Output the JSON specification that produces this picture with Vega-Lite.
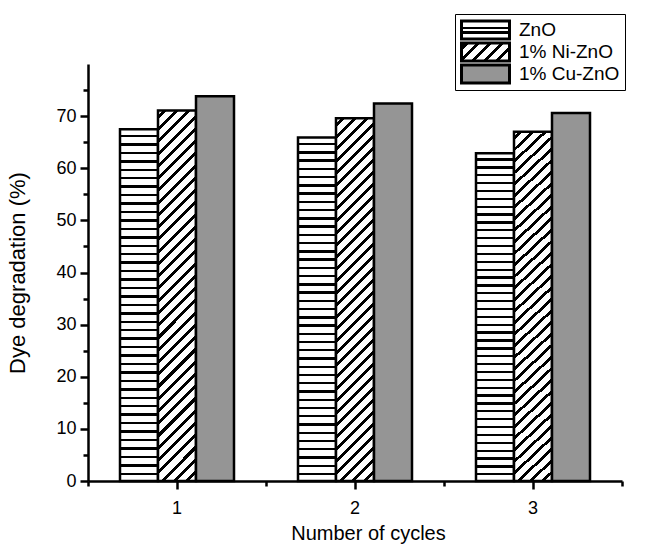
{
  "$schema": "https://vega.github.io/schema/vega-lite/v6.json",
  "width": 534,
  "height": 417,
  "autosize": "none",
  "padding": {"left": 88, "top": 64, "right": 30, "bottom": 63},
  "config": {"view": {"stroke": null}, "font": "Liberation Sans"},
  "data": {"values": [
    {"cycle": 1, "series": "ZnO", "value": 67.5},
    {"cycle": 1, "series": "1% Ni-ZnO", "value": 71.1},
    {"cycle": 1, "series": "1% Cu-ZnO", "value": 73.8},
    {"cycle": 2, "series": "ZnO", "value": 65.9},
    {"cycle": 2, "series": "1% Ni-ZnO", "value": 69.6},
    {"cycle": 2, "series": "1% Cu-ZnO", "value": 72.4},
    {"cycle": 3, "series": "ZnO", "value": 62.9},
    {"cycle": 3, "series": "1% Ni-ZnO", "value": 67.0},
    {"cycle": 3, "series": "1% Cu-ZnO", "value": 70.6}
  ]},
  "layer": [
    {
      "mark": {"type": "bar", "strokeWidth": 2.5,
        "fill": {"expr": "datum.series === 'ZnO' ? {gradient:'linear',x1:0,y1:0,x2:0,y2:1,stops:[{offset:0.016,color:'#fff'},{offset:0.016,color:'#000'},{offset:0.023,color:'#000'},{offset:0.023,color:'#fff'},{offset:0.040,color:'#fff'},{offset:0.040,color:'#000'},{offset:0.047,color:'#000'},{offset:0.047,color:'#fff'},{offset:0.064,color:'#fff'},{offset:0.064,color:'#000'},{offset:0.071,color:'#000'},{offset:0.071,color:'#fff'},{offset:0.088,color:'#fff'},{offset:0.088,color:'#000'},{offset:0.095,color:'#000'},{offset:0.095,color:'#fff'},{offset:0.112,color:'#fff'},{offset:0.112,color:'#000'},{offset:0.119,color:'#000'},{offset:0.119,color:'#fff'},{offset:0.136,color:'#fff'},{offset:0.136,color:'#000'},{offset:0.143,color:'#000'},{offset:0.143,color:'#fff'},{offset:0.160,color:'#fff'},{offset:0.160,color:'#000'},{offset:0.167,color:'#000'},{offset:0.167,color:'#fff'},{offset:0.184,color:'#fff'},{offset:0.184,color:'#000'},{offset:0.191,color:'#000'},{offset:0.191,color:'#fff'},{offset:0.208,color:'#fff'},{offset:0.208,color:'#000'},{offset:0.215,color:'#000'},{offset:0.215,color:'#fff'},{offset:0.232,color:'#fff'},{offset:0.232,color:'#000'},{offset:0.239,color:'#000'},{offset:0.239,color:'#fff'},{offset:0.256,color:'#fff'},{offset:0.256,color:'#000'},{offset:0.263,color:'#000'},{offset:0.263,color:'#fff'},{offset:0.280,color:'#fff'},{offset:0.280,color:'#000'},{offset:0.287,color:'#000'},{offset:0.287,color:'#fff'},{offset:0.304,color:'#fff'},{offset:0.304,color:'#000'},{offset:0.311,color:'#000'},{offset:0.311,color:'#fff'},{offset:0.328,color:'#fff'},{offset:0.328,color:'#000'},{offset:0.335,color:'#000'},{offset:0.335,color:'#fff'},{offset:0.352,color:'#fff'},{offset:0.352,color:'#000'},{offset:0.359,color:'#000'},{offset:0.359,color:'#fff'},{offset:0.376,color:'#fff'},{offset:0.376,color:'#000'},{offset:0.383,color:'#000'},{offset:0.383,color:'#fff'},{offset:0.400,color:'#fff'},{offset:0.400,color:'#000'},{offset:0.407,color:'#000'},{offset:0.407,color:'#fff'},{offset:0.424,color:'#fff'},{offset:0.424,color:'#000'},{offset:0.431,color:'#000'},{offset:0.431,color:'#fff'},{offset:0.448,color:'#fff'},{offset:0.448,color:'#000'},{offset:0.455,color:'#000'},{offset:0.455,color:'#fff'},{offset:0.472,color:'#fff'},{offset:0.472,color:'#000'},{offset:0.479,color:'#000'},{offset:0.479,color:'#fff'},{offset:0.496,color:'#fff'},{offset:0.496,color:'#000'},{offset:0.503,color:'#000'},{offset:0.503,color:'#fff'},{offset:0.520,color:'#fff'},{offset:0.520,color:'#000'},{offset:0.527,color:'#000'},{offset:0.527,color:'#fff'},{offset:0.544,color:'#fff'},{offset:0.544,color:'#000'},{offset:0.551,color:'#000'},{offset:0.551,color:'#fff'},{offset:0.568,color:'#fff'},{offset:0.568,color:'#000'},{offset:0.575,color:'#000'},{offset:0.575,color:'#fff'},{offset:0.592,color:'#fff'},{offset:0.592,color:'#000'},{offset:0.599,color:'#000'},{offset:0.599,color:'#fff'},{offset:0.616,color:'#fff'},{offset:0.616,color:'#000'},{offset:0.623,color:'#000'},{offset:0.623,color:'#fff'},{offset:0.640,color:'#fff'},{offset:0.640,color:'#000'},{offset:0.647,color:'#000'},{offset:0.647,color:'#fff'},{offset:0.664,color:'#fff'},{offset:0.664,color:'#000'},{offset:0.671,color:'#000'},{offset:0.671,color:'#fff'},{offset:0.688,color:'#fff'},{offset:0.688,color:'#000'},{offset:0.695,color:'#000'},{offset:0.695,color:'#fff'},{offset:0.712,color:'#fff'},{offset:0.712,color:'#000'},{offset:0.719,color:'#000'},{offset:0.719,color:'#fff'},{offset:0.736,color:'#fff'},{offset:0.736,color:'#000'},{offset:0.743,color:'#000'},{offset:0.743,color:'#fff'},{offset:0.760,color:'#fff'},{offset:0.760,color:'#000'},{offset:0.767,color:'#000'},{offset:0.767,color:'#fff'},{offset:0.784,color:'#fff'},{offset:0.784,color:'#000'},{offset:0.791,color:'#000'},{offset:0.791,color:'#fff'},{offset:0.808,color:'#fff'},{offset:0.808,color:'#000'},{offset:0.815,color:'#000'},{offset:0.815,color:'#fff'},{offset:0.832,color:'#fff'},{offset:0.832,color:'#000'},{offset:0.839,color:'#000'},{offset:0.839,color:'#fff'},{offset:0.856,color:'#fff'},{offset:0.856,color:'#000'},{offset:0.863,color:'#000'},{offset:0.863,color:'#fff'},{offset:0.880,color:'#fff'},{offset:0.880,color:'#000'},{offset:0.887,color:'#000'},{offset:0.887,color:'#fff'},{offset:0.904,color:'#fff'},{offset:0.904,color:'#000'},{offset:0.911,color:'#000'},{offset:0.911,color:'#fff'},{offset:0.928,color:'#fff'},{offset:0.928,color:'#000'},{offset:0.935,color:'#000'},{offset:0.935,color:'#fff'},{offset:0.952,color:'#fff'},{offset:0.952,color:'#000'},{offset:0.959,color:'#000'},{offset:0.959,color:'#fff'},{offset:0.976,color:'#fff'},{offset:0.976,color:'#000'},{offset:0.983,color:'#000'},{offset:0.983,color:'#fff'}]} : datum.series === '1% Ni-ZnO' ? {gradient:'linear',x1:0,y1:0,x2:0.112,y2:1.091,stops:[{offset:0.012,color:'#fff'},{offset:0.012,color:'#000'},{offset:0.022,color:'#000'},{offset:0.022,color:'#fff'},{offset:0.042,color:'#fff'},{offset:0.042,color:'#000'},{offset:0.052,color:'#000'},{offset:0.052,color:'#fff'},{offset:0.072,color:'#fff'},{offset:0.072,color:'#000'},{offset:0.082,color:'#000'},{offset:0.082,color:'#fff'},{offset:0.102,color:'#fff'},{offset:0.102,color:'#000'},{offset:0.112,color:'#000'},{offset:0.112,color:'#fff'},{offset:0.132,color:'#fff'},{offset:0.132,color:'#000'},{offset:0.142,color:'#000'},{offset:0.142,color:'#fff'},{offset:0.162,color:'#fff'},{offset:0.162,color:'#000'},{offset:0.172,color:'#000'},{offset:0.172,color:'#fff'},{offset:0.192,color:'#fff'},{offset:0.192,color:'#000'},{offset:0.202,color:'#000'},{offset:0.202,color:'#fff'},{offset:0.222,color:'#fff'},{offset:0.222,color:'#000'},{offset:0.232,color:'#000'},{offset:0.232,color:'#fff'},{offset:0.252,color:'#fff'},{offset:0.252,color:'#000'},{offset:0.262,color:'#000'},{offset:0.262,color:'#fff'},{offset:0.282,color:'#fff'},{offset:0.282,color:'#000'},{offset:0.292,color:'#000'},{offset:0.292,color:'#fff'},{offset:0.312,color:'#fff'},{offset:0.312,color:'#000'},{offset:0.322,color:'#000'},{offset:0.322,color:'#fff'},{offset:0.342,color:'#fff'},{offset:0.342,color:'#000'},{offset:0.352,color:'#000'},{offset:0.352,color:'#fff'},{offset:0.372,color:'#fff'},{offset:0.372,color:'#000'},{offset:0.382,color:'#000'},{offset:0.382,color:'#fff'},{offset:0.402,color:'#fff'},{offset:0.402,color:'#000'},{offset:0.412,color:'#000'},{offset:0.412,color:'#fff'},{offset:0.432,color:'#fff'},{offset:0.432,color:'#000'},{offset:0.442,color:'#000'},{offset:0.442,color:'#fff'},{offset:0.462,color:'#fff'},{offset:0.462,color:'#000'},{offset:0.472,color:'#000'},{offset:0.472,color:'#fff'},{offset:0.492,color:'#fff'},{offset:0.492,color:'#000'},{offset:0.502,color:'#000'},{offset:0.502,color:'#fff'},{offset:0.522,color:'#fff'},{offset:0.522,color:'#000'},{offset:0.532,color:'#000'},{offset:0.532,color:'#fff'},{offset:0.552,color:'#fff'},{offset:0.552,color:'#000'},{offset:0.562,color:'#000'},{offset:0.562,color:'#fff'},{offset:0.582,color:'#fff'},{offset:0.582,color:'#000'},{offset:0.592,color:'#000'},{offset:0.592,color:'#fff'},{offset:0.612,color:'#fff'},{offset:0.612,color:'#000'},{offset:0.622,color:'#000'},{offset:0.622,color:'#fff'},{offset:0.642,color:'#fff'},{offset:0.642,color:'#000'},{offset:0.652,color:'#000'},{offset:0.652,color:'#fff'},{offset:0.672,color:'#fff'},{offset:0.672,color:'#000'},{offset:0.682,color:'#000'},{offset:0.682,color:'#fff'},{offset:0.702,color:'#fff'},{offset:0.702,color:'#000'},{offset:0.712,color:'#000'},{offset:0.712,color:'#fff'},{offset:0.732,color:'#fff'},{offset:0.732,color:'#000'},{offset:0.742,color:'#000'},{offset:0.742,color:'#fff'},{offset:0.762,color:'#fff'},{offset:0.762,color:'#000'},{offset:0.772,color:'#000'},{offset:0.772,color:'#fff'},{offset:0.792,color:'#fff'},{offset:0.792,color:'#000'},{offset:0.802,color:'#000'},{offset:0.802,color:'#fff'},{offset:0.822,color:'#fff'},{offset:0.822,color:'#000'},{offset:0.832,color:'#000'},{offset:0.832,color:'#fff'},{offset:0.852,color:'#fff'},{offset:0.852,color:'#000'},{offset:0.862,color:'#000'},{offset:0.862,color:'#fff'},{offset:0.882,color:'#fff'},{offset:0.882,color:'#000'},{offset:0.892,color:'#000'},{offset:0.892,color:'#fff'},{offset:0.912,color:'#fff'},{offset:0.912,color:'#000'},{offset:0.922,color:'#000'},{offset:0.922,color:'#fff'},{offset:0.942,color:'#fff'},{offset:0.942,color:'#000'},{offset:0.952,color:'#000'},{offset:0.952,color:'#fff'},{offset:0.972,color:'#fff'},{offset:0.972,color:'#000'},{offset:0.982,color:'#000'},{offset:0.982,color:'#fff'}]} : datum.series === '1% Cu-ZnO' ? '#959595' : datum.value === 'ZnO' ? {gradient:'linear',x1:0,y1:0,x2:0,y2:1,stops:[{offset:0.33,color:'#fff'},{offset:0.33,color:'#000'},{offset:0.45,color:'#000'},{offset:0.45,color:'#fff'},{offset:0.58,color:'#fff'},{offset:0.58,color:'#000'},{offset:0.70,color:'#000'},{offset:0.70,color:'#fff'}]} : datum.value === '1% Ni-ZnO' ? {gradient:'linear',x1:0,y1:0,x2:1.205,y2:0.452,stops:[{offset:0.05,color:'#fff'},{offset:0.05,color:'#000'},{offset:0.115,color:'#000'},{offset:0.115,color:'#fff'},{offset:0.23,color:'#fff'},{offset:0.23,color:'#000'},{offset:0.295,color:'#000'},{offset:0.295,color:'#fff'},{offset:0.41,color:'#fff'},{offset:0.41,color:'#000'},{offset:0.475,color:'#000'},{offset:0.475,color:'#fff'},{offset:0.59,color:'#fff'},{offset:0.59,color:'#000'},{offset:0.655,color:'#000'},{offset:0.655,color:'#fff'},{offset:0.77,color:'#fff'},{offset:0.77,color:'#000'},{offset:0.835,color:'#000'},{offset:0.835,color:'#fff'},{offset:0.95,color:'#fff'},{offset:0.95,color:'#000'},{offset:1.0,color:'#000'}]} : '#959595'"}},
      "encoding": {
        "x": {"field": "cycle", "type": "ordinal",
          "scale": {"type": "band", "paddingInner": 0, "paddingOuter": 0},
          "axis": {"orient": "bottom", "tickSize": 8, "tickWidth": 2.5, "tickColor": "black", "domainWidth": 2.5, "domainColor": "black",
            "labelFontSize": 18, "labelColor": "black", "labelAngle": 0, "labelPadding": 10,
            "title": "Number of cycles", "titleFontSize": 20, "titleFontWeight": "normal", "titleColor": "black", "titlePadding": 6, "titleX": 280}},
        "xOffset": {"field": "series", "type": "nominal",
          "scale": {"domain": ["ZnO", "1% Ni-ZnO", "1% Cu-ZnO"], "paddingInner": 0, "paddingOuter": 0.842}},
        "y": {"field": "value", "type": "quantitative",
          "scale": {"domain": [0, 80], "nice": false},
          "axis": {"values": [0, 5, 10, 15, 20, 25, 30, 35, 40, 45, 50, 55, 60, 65, 70, 75],
            "labelExpr": "datum.value % 10 === 0 ? datum.label : ''",
            "tickSize": {"condition": {"test": "datum.value % 10 === 0", "value": 8}, "value": 5},
            "tickWidth": 2.5, "tickColor": "black", "domainWidth": 2.5, "domainColor": "black", "grid": false,
            "labelFontSize": 18, "labelColor": "black", "labelPadding": 4,
            "title": "Dye degradation (%)", "titleFontSize": 22, "titleFontWeight": "normal", "titleColor": "black", "titlePadding": 26}},
        "stroke": {"field": "series", "type": "nominal",
          "scale": {"domain": ["ZnO", "1% Ni-ZnO", "1% Cu-ZnO"], "range": ["black", "black", "black"]},
          "legend": {"orient": "none", "legendX": 367, "legendY": -50, "title": null,
            "symbolType": "M-1,-1H4.333V1H-1Z", "symbolSize": 324,
            "symbolStrokeColor": "black", "symbolStrokeWidth": 3,
            "labelFontSize": 19, "labelColor": "black", "labelOffset": 38, "rowPadding": 0, "clipHeight": 22,
            "strokeColor": "black", "fillColor": "white", "padding": 5}}
      }
    },
    {
      "mark": {"type": "bar", "opacity": 0},
      "encoding": {
        "x": {"field": "cycle", "type": "ordinal",
          "scale": {"type": "band", "paddingInner": 0, "paddingOuter": 0},
          "axis": {"orient": "bottom", "tickBand": "extent", "labels": false, "domain": false,
            "tickSize": 5, "tickWidth": 2.5, "tickColor": "black", "title": null}}
      }
    }
  ],
  "resolve": {"axis": {"x": "independent"}}
}
